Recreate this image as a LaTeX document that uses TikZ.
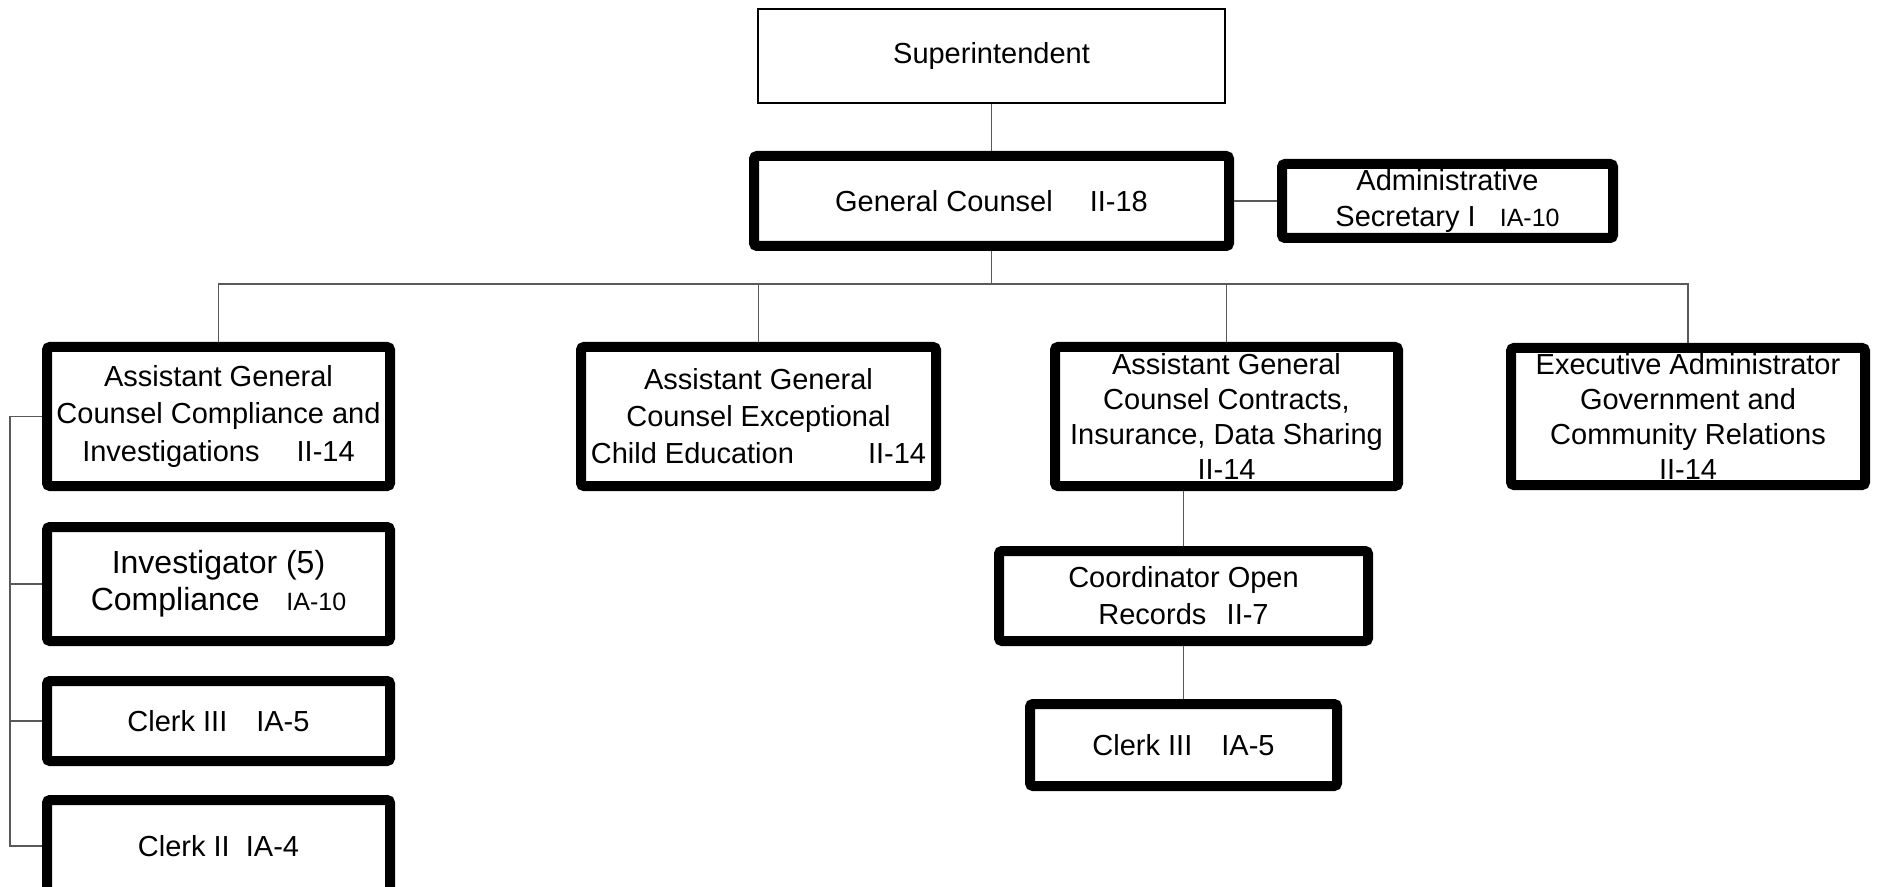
\documentclass[tikz,border=0pt]{standalone}
\usepackage{fontspec}
\setmainfont{Liberation Sans}
\begin{document}
\begin{tikzpicture}[x=0.5pt,y=-0.5pt,
  box/.style={draw=black, rectangle, rounded corners=1.5pt, align=center, inner sep=0pt,
     font=\fontsize{14.5}{18.5}\selectfont, fill=white},
  tb/.style={box, line width=5pt},
  thin/.style={box, line width=1pt, rounded corners=0pt},
  conn/.style={draw=black!65, line width=0.6pt}]
\useasboundingbox (0,0) rectangle (1877,887);
\newcommand{\sm}[1]{{\fontsize{12.5}{14}\selectfont #1}}
\coordinate (bus) at (0,284);
\coordinate (lb) at (10,0);
\node[thin, minimum width=233.5pt, minimum height=47pt] (sup) at (991.5,56) {Superintendent};
\node[tb, minimum width=237.5pt, minimum height=45pt] (gc) at (991.5,201) {General Counsel\quad\ II-18};
\node[tb, minimum width=165.5pt, minimum height=37pt, font=\fontsize{14.5}{18}\selectfont] (adm) at (1447.5,201) {Administrative\\Secretary I\ \ \ \sm{IA-10}};
\node[tb, minimum width=171.5pt, minimum height=69.5pt] (agcc) at (218.5,416.5) {Assistant General\\Counsel Compliance and\\Investigations\quad\ II-14};
\node[tb, minimum width=177.5pt, minimum height=69.5pt] (agce) at (758.5,416.5) {Assistant General\\Counsel Exceptional\\Child Education\qquad\ \ II-14};
\node[tb, minimum width=171.5pt, minimum height=69.5pt, font=\fontsize{14.5}{17.5}\selectfont] (agck) at (1226.5,416.5) {Assistant General\\Counsel Contracts,\\Insurance, Data Sharing\\II-14};
\node[tb, minimum width=177pt, minimum height=68.5pt, font=\fontsize{14.5}{17.5}\selectfont] (exec) at (1688,416.5) {Executive Administrator\\Government and\\Community Relations\\II-14};
\node[tb, minimum width=171.5pt, minimum height=57pt, font=\fontsize{16}{18.5}\selectfont] (inv) at (218.5,584) {Investigator (5)\\Compliance\ \ \ \sm{IA-10}};
\node[tb, minimum width=171.5pt, minimum height=40pt] (clk3l) at (218.5,721) {Clerk III\quad IA-5};
\node[tb, minimum width=171.5pt, minimum height=46pt] (clk2) at (218.5,846) {Clerk II\ \ IA-4};
\node[tb, minimum width=184.5pt, minimum height=45pt] (coord) at (1183.5,596) {Coordinator Open\\Records\hspace{0.7em}II-7};
\node[tb, minimum width=153.5pt, minimum height=41pt] (clk3r) at (1183.5,745) {Clerk III\quad IA-5};
% connectors
\draw[conn] (sup.south) -- (gc.north);
\draw[conn] (gc.east) -- (adm.west);
\draw[conn] (gc.south) -- (gc.south |- bus);
\draw[conn] (agcc.north) -- (agcc.north |- bus) -- (exec.north |- bus) -- (exec.north);
\draw[conn] (agce.north) -- (agce.north |- bus);
\draw[conn] (agck.north) -- (agck.north |- bus);
\draw[conn] (coord.north) -- (coord.north |- agck.south);
\draw[conn] (coord.south) -- (clk3r.north);
\draw[conn] (agcc.west) -- (agcc.west -| lb) -- (clk2.west -| lb) -- (clk2.west);
\draw[conn] (inv.west) -- (inv.west -| lb);
\draw[conn] (clk3l.west) -- (clk3l.west -| lb);
\end{tikzpicture}
\end{document}
